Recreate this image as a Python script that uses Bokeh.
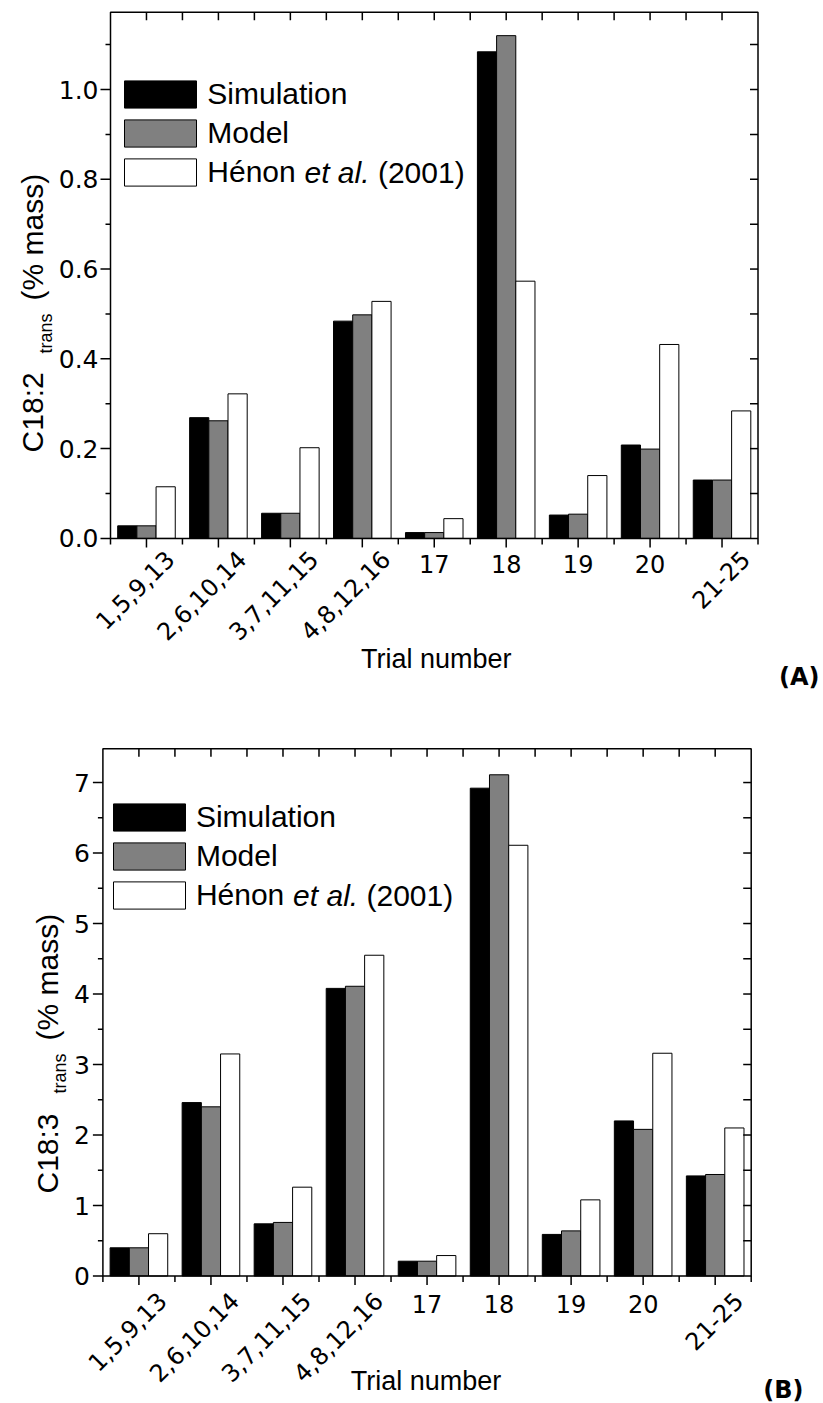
import math
from bokeh.plotting import figure
from bokeh.models import ColumnDataSource, Range1d, Label, Legend, LegendItem
from bokeh.layouts import column
from bokeh.transform import dodge
from bokeh.embed import file_html
from bokeh.resources import INLINE

# ---------------- data ----------------
trials = ["1,5,9,13", "2,6,10,14", "3,7,11,15", "4,8,12,16", "17", "18", "19", "20", "21-25"]
series_names = ["Simulation", "Model", "Hénon et al. (2001)"]

c182_simulation = [0.028, 0.269, 0.056, 0.484, 0.013, 1.084, 0.052, 0.208, 0.130]
c182_model = [0.028, 0.262, 0.056, 0.498, 0.013, 1.120, 0.054, 0.199, 0.130]
c182_henon = [0.115, 0.322, 0.202, 0.528, 0.044, 0.573, 0.140, 0.432, 0.284]

c183_simulation = [0.40, 2.46, 0.74, 4.08, 0.21, 6.92, 0.59, 2.20, 1.42]
c183_model = [0.40, 2.40, 0.76, 4.11, 0.21, 7.11, 0.64, 2.08, 1.44]
c183_henon = [0.60, 3.15, 1.26, 4.55, 0.29, 6.11, 1.08, 3.16, 2.10]

c182_yticks = [0.0, 0.2, 0.4, 0.6, 0.8, 1.0]
c183_yticks = [0, 1, 2, 3, 4, 5, 6, 7]

# ---------------- style ----------------
BAR_COLORS = ["#000000", "#808080", "#ffffff"]
BAR_W = 0.8 / 3
TICK_FONT = "DejaVu Sans"
TEXT_FONT = "Liberation Sans"
LW = 1.5


def add_text(p, text, x, y, dx, dy, size, font=TEXT_FONT, style="normal",
             align="left", baseline="alphabetic", angle=0.0):
    p.add_layout(Label(x=x, y=y, x_offset=dx, y_offset=dy, text=text,
                       text_font=font, text_font_size=f"{size}px",
                       text_font_style=style, text_align=align,
                       text_baseline=baseline, angle=angle, text_color="black"))


def build_panel(sim, model, henon, ymax, yticks, ystep, yfmt, ytitle, panel_tag, g):
    n = len(trials)
    xs = list(range(1, n + 1))
    W, H = g["w"], g["h"]
    PL, PR, PT, PB = g["panel"]          # plot-area box inside the canvas (pixels)
    kx = (PR - PL) / n                   # pixels per category
    ky = (PB - PT) / ymax                # pixels per y unit
    x_range = Range1d(0.5 - PL / kx, n + 0.5 + (W - PR) / kx)
    y_range = Range1d(-(H - PB) / ky, ymax + PT / ky)

    p = figure(width=W, height=H, title=None, toolbar_location=None,
               output_backend="svg", x_range=x_range, y_range=y_range,
               x_axis_type=None, y_axis_type=None, min_border=0)
    p.xgrid.visible = False
    p.ygrid.visible = False
    p.outline_line_color = None
    p.background_fill_color = "white"
    p.border_fill_color = "white"

    src = ColumnDataSource(dict(x=xs, sim=sim, model=model, henon=henon))
    rs = []
    for i, col in enumerate(["sim", "model", "henon"]):
        r = p.vbar(x=dodge("x", (i - 1) * BAR_W), top=col, width=BAR_W, source=src,
                   fill_color=BAR_COLORS[i], line_color="black", line_width=1)
        rs.append(r)

    # plot-area box
    p.quad(left=[0.5], right=[n + 0.5], bottom=[0], top=[ymax], fill_color=None,
           line_color="black", line_width=LW)

    # ticks
    edges = [k + 0.5 for k in range(0, n + 1)]
    yminor = [v + ystep / 2 for v in yticks if v + ystep / 2 <= ymax]
    # bottom (outward)
    p.ray(x=xs, y=[0] * n, length=9, length_units="screen", angle=-math.pi / 2,
          line_color="black", line_width=LW)
    p.ray(x=edges, y=[0] * len(edges), length=6, length_units="screen", angle=-math.pi / 2,
          line_color="black", line_width=LW)
    # left (outward)
    p.ray(x=[0.5] * len(yticks), y=yticks, length=10, length_units="screen", angle=math.pi,
          line_color="black", line_width=LW)
    p.ray(x=[0.5] * len(yminor), y=yminor, length=5, length_units="screen", angle=math.pi,
          line_color="black", line_width=LW)
    # top (inward)
    top_x = sorted(edges[1:-1] + xs)
    p.ray(x=top_x, y=[ymax] * len(top_x), length=8, length_units="screen",
          angle=-math.pi / 2, line_color="black", line_width=LW)
    # right (inward)
    right_y = sorted([v for v in yticks + yminor if 0 < v < ymax])
    p.ray(x=[n + 0.5] * len(right_y), y=right_y, length=8, length_units="screen",
          angle=math.pi, line_color="black", line_width=LW)

    # y tick labels
    for v in yticks:
        add_text(p, yfmt.format(v), 0.5, v, g["ylab_dx"], 0, 25, font=TICK_FONT,
                 align="right", baseline="middle")

    # category tick labels
    for x, lab in zip(xs, trials):
        if len(lab) > 2:
            add_text(p, lab, x, 0, g["rot_dx"], g["rot_dy"], 24, font=TICK_FONT,
                     align="right", baseline="top", angle=math.pi / 4)
        else:
            add_text(p, lab, x, 0, 0, g["hor_dy"], 24, font=TICK_FONT,
                     align="center", baseline="top")

    # axis titles
    add_text(p, "Trial number", (n + 1) / 2, 0, g["xt_dx"], g["xt_dy"], 27,
             align="center", baseline="middle")
    for (dx, dy), txt, size in zip(g["yt"], ytitle, (30, 18, 30)):
        add_text(p, txt, 0.5, 0, dx, dy, size, angle=math.pi / 2)

    # panel tag
    add_text(p, panel_tag, n + 0.5, 0, g["tag"][0], g["tag"][1], 24, font="DejaVu Sans",
             style="bold", align="right", baseline="middle")

    # legend (last entry: author name in the legend, "et al." italic + year as texts)
    first, rest = series_names[2].split(" ", 1)
    etal, year = rest.rsplit(" ", 1)
    lx, ly = g["leg"]
    legend = Legend(items=[LegendItem(label=series_names[0], renderers=[rs[0]]),
                           LegendItem(label=series_names[1], renderers=[rs[1]]),
                           LegendItem(label=first, renderers=[rs[2]])],
                    location=(PL + lx, (H - PB) + ly), glyph_width=90, glyph_height=34,
                    label_standoff=2, spacing=5, padding=0, margin=0,
                    border_line_alpha=0, background_fill_alpha=0,
                    label_text_font=TEXT_FONT, label_text_font_size="30px",
                    label_text_color="black")
    p.add_layout(legend)
    add_text(p, etal, 0.5, 0, g["etal"][0], g["etal"][2], 30, style="italic",
             baseline="middle")
    add_text(p, year, 0.5, 0, g["etal"][1], g["etal"][2], 30, baseline="middle")
    return p


geo_a = dict(w=823, h=700, panel=(110, 757.5, 11.8, 537.9), ylab_dx=-12,
             rot_dx=17, rot_dy=-10, hor_dy=-16.5, xt_dx=2, xt_dy=-121,
             yt=[(-78, 86), (-65, 185), (-78, 238)], tag=(61.5, -139),
             leg=(5.3, 349.3), etal=(194, 267.4, 366.3))
geo_b = dict(w=823, h=703, panel=(102.4, 750.7, 48.2, 575.5), ylab_dx=-13,
             rot_dx=17, rot_dy=-14, hor_dy=-19, xt_dx=-1, xt_dy=-104.5,
             yt=[(-55.4, 82.5), (-43.4, 182.5), (-55.4, 235.5)], tag=(52.3, -113.5),
             leg=(1.5, 363.3), etal=(190.2, 263.6, 380.3))

p1 = build_panel(c182_simulation, c182_model, c182_henon, 1.172, c182_yticks, 0.2, "{:.1f}",
                 ("C18:2", "trans", "(% mass)"), "(A)", geo_a)
p2 = build_panel(c183_simulation, c183_model, c183_henon, 7.48, c183_yticks, 1, "{:.0f}",
                 ("C18:3", "trans", "(% mass)"), "(B)", geo_b)

layout = column(p1, p2, spacing=0)
open("out.html", "w").write(file_html(layout, INLINE))
